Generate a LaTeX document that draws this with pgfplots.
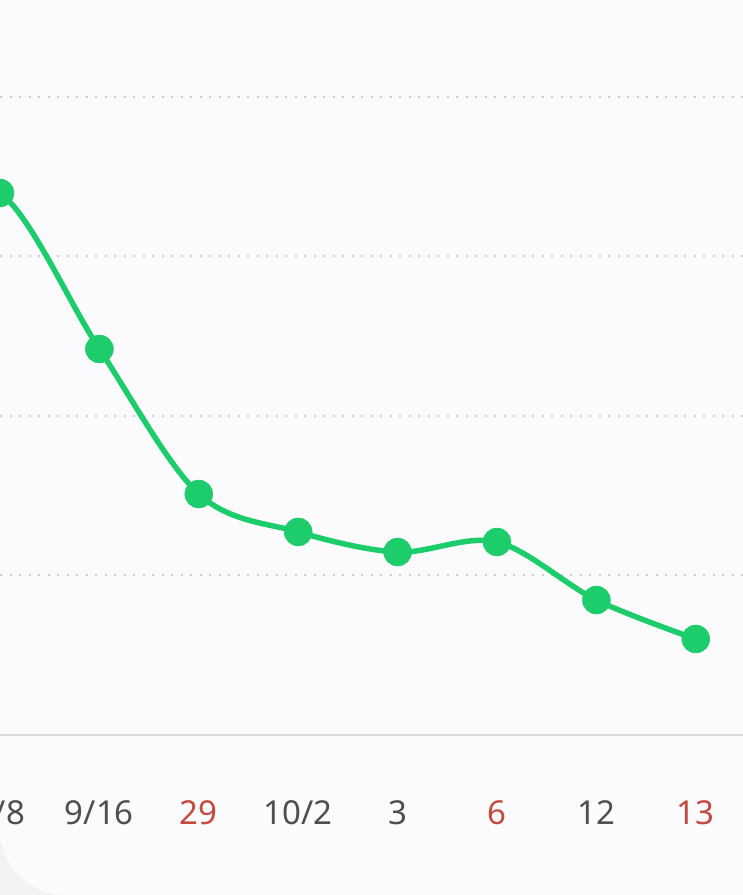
\documentclass[border=0pt]{standalone}
\usepackage{fontspec}
\setmainfont{Noto Sans}
\usepackage{pgfplots}
\pgfplotsset{compat=1.18}
\definecolor{bg}{HTML}{FBFBFD}
\definecolor{lgreen}{HTML}{1DCC6A}
\definecolor{lred}{HTML}{C44A40}
\definecolor{lgray}{HTML}{4F4F52}
\definecolor{gridc}{HTML}{CDCDD2}
\definecolor{axc}{HTML}{DCDCDF}
\definecolor{cornerc}{HTML}{F3F3F6}
\begin{document}
\begin{tikzpicture}[x=1pt,y=1pt]
\path[use as bounding box, clip] (0,0) rectangle (743,895);
\fill[bg] (0,0) rectangle (743,895);
\fill[cornerc] (0,0) -- (0,65) arc[start angle=180,end angle=270,radius=65] -- cycle;
\begin{axis}[
  at={(0pt,160pt)}, anchor=south west,
  scale only axis, width=743pt, height=735pt,
  xmin=0, xmax=7.475, ymin=0, ymax=4.608,
  axis line style={draw=none},
  ytick={1,2,3,4}, yticklabels={}, ymajorgrids,
  grid style={gridc, line width=2pt, dash pattern=on 2pt off 7.5pt},
  xtick={0,1,2,3,4,5,6,7},
  xticklabels={9/8, 9/16, \textcolor{lred}{29}, 10/2, 3, \textcolor{lred}{6}, 12, \textcolor{lred}{13}},
  xticklabel style={anchor=base, yshift=-89pt, font=\fontsize{33}{36}\selectfont, text=lgray},
  major tick length=0pt,
  clip=false,
]
\draw[axc, line width=2pt] (axis cs:0,0) -- (axis cs:7.475,0);
\addplot[lgreen, line width=5.5pt, smooth, tension=0.55, mark=none]
  coordinates {(-1,3.30) (0,3.398) (1,2.420) (2,1.511) (3,1.273) (4,1.147) (5,1.210) (6,0.846) (7,0.602)};
\addplot[lgreen, solid, only marks, mark=*, mark size=14pt, mark options={solid, fill=lgreen, draw=none}]
  coordinates {(0,3.398) (1,2.420) (2,1.511) (3,1.273) (4,1.147) (5,1.210) (6,0.846) (7,0.602)};
\end{axis}
\end{tikzpicture}
\end{document}
